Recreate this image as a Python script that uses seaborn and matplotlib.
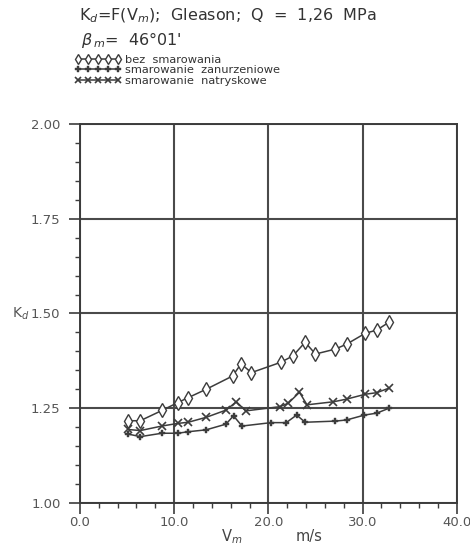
import matplotlib
matplotlib.use("Agg")
import matplotlib.pyplot as plt
from matplotlib.ticker import MultipleLocator, FormatStrFormatter
import seaborn as sns
import pandas as pd

# --- data ---
x_bez = [5.1, 6.4, 8.7, 10.4, 11.5, 13.4, 16.2, 17.1, 18.2, 21.3, 22.6, 23.9, 25.0, 27.1, 28.3, 30.3, 31.5, 32.8]
y_bez = [1.217, 1.217, 1.244, 1.265, 1.278, 1.300, 1.335, 1.367, 1.344, 1.371, 1.388, 1.424, 1.393, 1.406, 1.419, 1.448, 1.456, 1.477]

x_zan = [5.1, 6.4, 8.7, 10.4, 11.5, 13.4, 15.5, 16.3, 17.2, 20.3, 21.9, 23.0, 23.9, 27.1, 28.3, 30.2, 31.5, 32.8]
y_zan = [1.182, 1.175, 1.184, 1.184, 1.188, 1.193, 1.208, 1.230, 1.203, 1.212, 1.212, 1.232, 1.213, 1.216, 1.219, 1.232, 1.237, 1.250]

x_nat = [5.1, 6.4, 8.7, 10.4, 11.5, 13.4, 15.5, 16.6, 17.6, 21.2, 22.1, 23.3, 24.1, 26.9, 28.3, 30.3, 31.5, 32.8]
y_nat = [1.194, 1.191, 1.203, 1.210, 1.213, 1.226, 1.245, 1.267, 1.243, 1.254, 1.263, 1.292, 1.259, 1.267, 1.274, 1.287, 1.291, 1.303]

labels = ["bez  smarowania", "smarowanie  zanurzeniowe", "smarowanie  natryskowe"]
x_ticks = [0.0, 10.0, 20.0, 30.0, 40.0]
y_ticks = [1.00, 1.25, 1.50, 1.75, 2.00]

sns.set_style("white")
plt.rcParams["font.family"] = ["DejaVu Sans"]

ink = "#3c3c3c"
fig = plt.figure(figsize=(4.70, 5.57), dpi=100)
ax = fig.add_axes([0.170, 0.097, 0.802, 0.6804])

ax.set_axisbelow(True)
ax.grid(True, which="major", color="#4a4a4a", linewidth=1.5)

series = [
    (x_bez, y_bez, "d", dict(markersize=7, markerfacecolor="white", markeredgewidth=1.0)),
    (x_zan, y_zan, "P", dict(markersize=4.8, markerfacecolor=ink, markeredgewidth=0.3)),
    (x_nat, y_nat, "x", dict(markersize=5.5, markeredgewidth=1.2)),
]
for (xs, ys, mk, kw), lab in zip(series, labels):
    df = pd.DataFrame({"x": xs, "y": ys})
    sns.lineplot(data=df, x="x", y="y", ax=ax, color=ink, linewidth=1.1,
                 marker=mk, markeredgecolor=ink, label=lab, **kw)

ax.set_xlim(0, 40)
ax.set_ylim(1.0, 2.0)
ax.set_xticks(x_ticks)
ax.set_yticks(y_ticks)
ax.xaxis.set_major_formatter(FormatStrFormatter("%.1f"))
ax.yaxis.set_major_formatter(FormatStrFormatter("%.2f"))
ax.xaxis.set_minor_locator(MultipleLocator(2.0))
ax.yaxis.set_minor_locator(MultipleLocator(0.05))
ax.tick_params(axis="both", which="both", bottom=True, left=True, top=False, right=False)
ax.tick_params(axis="y", which="major", direction="out", length=8, width=1.2,
               color=ink, labelcolor="#555555", labelsize=9.5, pad=6)
ax.tick_params(axis="x", which="major", direction="out", length=8, width=1.2,
               color=ink, labelcolor="#555555", labelsize=9.5, pad=1.5)
ax.tick_params(axis="both", which="minor", direction="out", length=3.5, width=1.0, color=ink)
for s in ax.spines.values():
    s.set_color(ink)
    s.set_linewidth(1.4)

ax.set_xlabel("")
ax.set_ylabel("")
ax.text(0.402, -0.088, "V$_m$", transform=ax.transAxes, ha="center", va="center",
        color="#444444", fontsize=10.5)
ax.text(0.608, -0.088, "m/s", transform=ax.transAxes, ha="center", va="center",
        color="#444444", fontsize=10.5)
ax.text(-0.158, 0.5, "K$_d$", transform=ax.transAxes, ha="center", va="center",
        color="#555555", fontsize=10)

leg = ax.legend(loc="upper left", bbox_to_anchor=(0.158, 0.902), bbox_transform=fig.transFigure,
                frameon=False, numpoints=5, handlelength=4.1, handletextpad=0.35,
                fontsize=8.2, labelspacing=0.06, borderpad=0, borderaxespad=0, markerscale=0.8)
for t in leg.get_texts():
    t.set_color("#333333")

fig.text(0.168, 0.972, "K$_d$=F(V$_m$);  Gleason;  Q  =  1,26  MPa", fontsize=11.5,
         color="#333333", ha="left", va="center")
fig.text(0.172, 0.928, r"$\beta$$_{\,m}$=  46°01'", fontsize=11.5,
         color="#333333", ha="left", va="center")

fig.savefig("out.png", dpi=100, facecolor="white")
